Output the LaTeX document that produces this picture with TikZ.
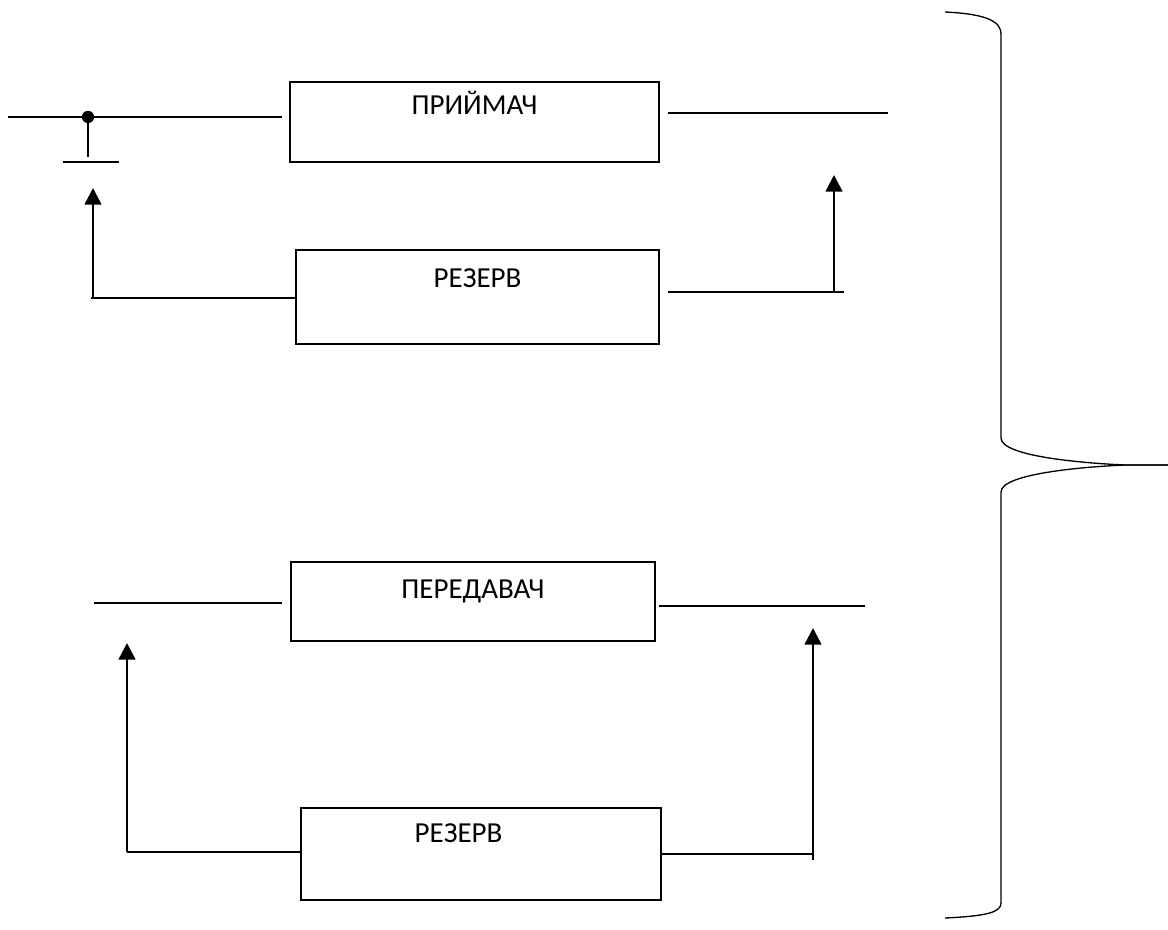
\documentclass[tikz,border=0pt]{standalone}
\usepackage{fontspec}
\setmainfont{Carlito}
\usepackage{tikz}
\usetikzlibrary{arrows.meta, positioning}
\tikzset{
    unit/.style={rectangle, draw, line width=1.1pt, inner sep=0pt, text centered, anchor=base, font=\fontsize{16.5}{19}\selectfont},
    wire/.style={line width=0.75pt},
    feed/.style={-{Triangle[width=9.5pt,length=9.5pt]}, line width=1.45pt},
    tap/.style={circle, fill, inner sep=0pt, minimum size=7pt}
}

\begin{document}
\begin{tikzpicture}[x=0.02cm, y=-0.02cm]
    \useasboundingbox (0,0) rectangle (1168,929);

    % Receiver and its reserve
    \node[unit, minimum width=7.38cm, text height=0.66cm, text depth=0.94cm] (rx) at (474.5,115) {ПРИЙМАЧ};
    \node[unit, minimum width=7.26cm, text height=0.74cm, text depth=1.14cm] (rxres) at (477.5,287) {РЕЗЕРВ};

    % Transmitter and its reserve
    \node[unit, minimum width=7.28cm, text height=0.72cm, text depth=0.86cm] (tx) at (473,598) {ПЕРЕДАВАЧ};
    \node[unit, minimum width=7.2cm, text height=0.68cm, text depth=1.16cm] (txres) at (481,842) {\hspace*{-0.9cm}РЕЗЕРВ};

    % Free ends
    \coordinate (ant) at (8,117);
    \node[tap] (tap) at (88,117) {};
    \coordinate (gnd) at (88,162);
    \coordinate (rxout) at (888,113);
    \coordinate (rxa) at (91,298);
    \coordinate (rxb) at (93,188);
    \coordinate (rxc) at (844,292);
    \coordinate (rxd) at (834,175);
    \coordinate (txin) at (94,603);
    \coordinate (txout) at (865,606);
    \coordinate (txa) at (127,852);
    \coordinate (txb) at (127,643);
    \coordinate (txc) at (813,854);
    \coordinate (txd) at (813,628);

    % Receiver lines
    \draw[wire, shorten >=4pt] (ant) -- (rx.west |- ant);
    \draw[wire, shorten >=2.8pt] (tap) -- (gnd);
    \draw[wire] ([xshift=-0.5cm]gnd) -- ([xshift=0.62cm]gnd);
    \draw[wire, shorten <=4.5pt] (rx.east |- rxout) -- (rxout);
    \draw[wire] (rxa) -- (rxres.west |- rxa);
    \draw[feed] (rxb |- rxa) -- (rxb);
    \draw[wire, shorten <=4.5pt] (rxres.east |- rxc) -- (rxc);
    \draw[feed] (rxd |- rxc) -- (rxd);

    % Transmitter lines
    \draw[wire, shorten >=4.5pt] (txin) -- (tx.west |- txin);
    \draw[wire, shorten <=2pt] (tx.east |- txout) -- (txout);
    \draw[wire] (txa) -- (txres.west |- txa);
    \draw[feed] (txa) -- (txb);
    \draw[wire] (txres.east |- txc) -- (txc);
    \draw[feed] ([yshift=-0.12cm]txc) -- (txd);

    % Brace
    \draw[wire] (945,12) .. controls (988,14) and (1001,22) .. (1001,34) -- (1001,438)
        .. controls (1001,456) and (1080,463) .. (1125,465) -- (1168,465);
    \draw[wire] (1168,465) -- (1125,465) .. controls (1080,467) and (1001,474) .. (1001,492)
        -- (1001,903) .. controls (1001,912) and (988,916) .. (945,918);
\end{tikzpicture}
\end{document}
